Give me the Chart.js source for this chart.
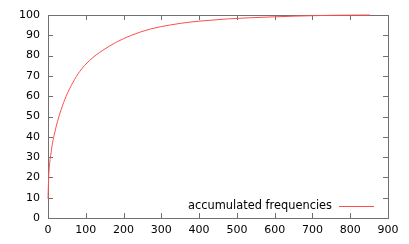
<!DOCTYPE html>
<html>
<head>
<meta charset="utf-8">
<script src="https://cdn.jsdelivr.net/npm/chart.js@4"></script>
<style>
  html, body { margin: 0; padding: 0; background: #fff; }
  #wrap { width: 409px; height: 244px; }
</style>
</head>
<body>
<div id="wrap"><canvas id="freqChart" width="409" height="244"></canvas></div>
<script>
// valeurs
const ranks = [0, 1, 2, 4, 6, 8, 12, 16, 20, 25, 35, 48, 66, 84, 110, 145, 181, 218,
               271, 324, 376, 429, 478, 530, 600, 650, 700, 750, 800, 852];
const accumulated = [9.5, 16, 21, 26, 29.5, 32, 37, 40.5, 43.8, 47.5, 53.5, 60, 66.8, 72.2, 77.6, 82.6, 86.6, 89.8,
                     93.1, 95.1, 96.5, 97.4, 98.1, 98.6, 99.1, 99.4, 99.65, 99.85, 99.95, 100];
const xTicks = [0, 100, 200, 300, 400, 500, 600, 700, 800, 900];
const yTicks = [0, 10, 20, 30, 40, 50, 60, 70, 80, 90, 100];
const seriesLabel = 'accumulated frequencies';

const FONT = '"DejaVu Sans", sans-serif';
const lineColor = '#ff4d4d';
const frameColor = '#707070';

// cadre + graduations vers l'intérieur, style gnuplot
const framePlugin = {
    id: 'frame',
    beforeDatasetsDraw(chart) {
        const { ctx, chartArea: a, scales } = chart;
        const tl = 5;
        ctx.save();
        ctx.strokeStyle = frameColor;
        ctx.lineWidth = 1;
        ctx.strokeRect(Math.round(a.left) + 0.5, Math.round(a.top) + 0.5,
                       Math.round(a.right - a.left), Math.round(a.bottom - a.top));
        ctx.beginPath();
        xTicks.forEach(v => {
            const px = Math.round(scales.x.getPixelForValue(v)) + 0.5;
            ctx.moveTo(px, a.bottom); ctx.lineTo(px, a.bottom - tl);
            ctx.moveTo(px, a.top); ctx.lineTo(px, a.top + tl);
        });
        yTicks.forEach(v => {
            const py = Math.round(scales.y.getPixelForValue(v)) + 0.5;
            ctx.moveTo(a.left, py); ctx.lineTo(a.left + tl, py);
            ctx.moveTo(a.right, py); ctx.lineTo(a.right - tl, py);
        });
        ctx.stroke();
        ctx.restore();
    },
    afterDraw(chart) {
        // légende en bas à droite
        const { ctx } = chart;
        const ly = 206;
        ctx.save();
        ctx.font = '11.4px ' + FONT;
        ctx.fillStyle = '#000';
        ctx.textAlign = 'right';
        ctx.textBaseline = 'middle';
        ctx.fillText(seriesLabel, 332, ly);
        ctx.strokeStyle = lineColor;
        ctx.lineWidth = 1;
        ctx.beginPath();
        ctx.moveTo(339, ly + 0.5);
        ctx.lineTo(374, ly + 0.5);
        ctx.stroke();
        ctx.restore();
    }
};

document.addEventListener('DOMContentLoaded', function() {
    const ctx = document.getElementById('freqChart').getContext('2d');

    new Chart(ctx, {
        type: 'line',
        data: {
            datasets: [{
                label: seriesLabel,
                data: ranks.map((r, i) => ({ x: r, y: accumulated[i] })),
                borderColor: lineColor,
                borderWidth: 1,
                pointRadius: 0,
                fill: false,
                clip: false,
                cubicInterpolationMode: 'monotone'
            }]
        },
        options: {
            responsive: false,
            animation: false,
            layout: { padding: { left: 0, right: 21, top: 15, bottom: 0 } },
            scales: {
                x: {
                    type: 'linear',
                    min: 0,
                    max: 900,
                    afterBuildTicks: s => { s.ticks = xTicks.map(v => ({ value: v })); },
                    afterFit: s => { s.height = 26; },
                    grid: { display: false, drawTicks: false },
                    border: { display: false },
                    ticks: { color: '#000', font: { family: FONT, size: 11 }, padding: 6, maxRotation: 0 }
                },
                y: {
                    min: 0,
                    max: 100,
                    afterBuildTicks: s => { s.ticks = yTicks.map(v => ({ value: v })); },
                    afterFit: s => { s.width = 48; },
                    grid: { display: false, drawTicks: false },
                    border: { display: false },
                    ticks: { color: '#000', font: { family: FONT, size: 11 }, padding: 8 }
                }
            },
            plugins: {
                legend: { display: false },
                tooltip: { enabled: false }
            }
        },
        plugins: [framePlugin]
    });
});
</script>
</body>
</html>
